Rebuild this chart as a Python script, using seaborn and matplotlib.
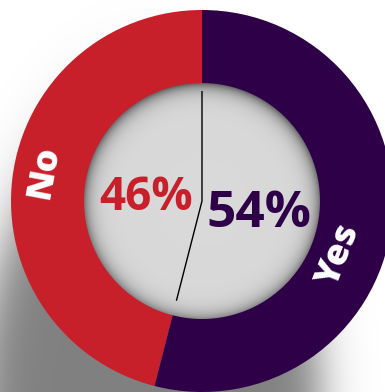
import numpy as np
import matplotlib
matplotlib.use("Agg")
import matplotlib.pyplot as plt
import seaborn as sns

# Survey result
labels = ["No", "Yes"]
shares = [46, 54]
pct_labels = [f"{v}%" for v in shares]
colors = ["#C8202A", "#2E0048"]

W, H = 385, 392
CX, CY = 202, H - 201          # donut centre (y up)
R_OUT, R_IN = 191, 118

sns.set_theme(style="white")
plt.rcParams["font.family"] = ["Open Sans", "DejaVu Sans"]
palette = sns.color_palette(colors)

fig = plt.figure(figsize=(W / 100, H / 100), dpi=100)
ax = fig.add_axes([0, 0, 1, 1])

# pixel grid (centres), y up
xs = np.arange(W) + 0.5
ys = H - (np.arange(H) + 0.5)
XX, YY = np.meshgrid(xs, ys)

# soft drop shadow falling to the lower left
sx, sy, sa, sb = 150, H - 410, 170, 305
n = np.sqrt(((XX - sx) / sa) ** 2 + ((YY - sy) / sb) ** 2)
margin = (1 - n) * sa
alpha = 0.50 / (1 + np.exp(-margin / 13))
shadow = np.zeros((H, W, 4))
shadow[..., 3] = alpha
ax.imshow(shadow, extent=(0, W, 0, H), origin="upper", zorder=0, interpolation="bilinear")

# the ring
wedges, _ = ax.pie(shares, colors=palette, startangle=90, counterclock=True,
                   radius=R_OUT, center=(CX, CY),
                   wedgeprops=dict(width=R_OUT - R_IN + 2, linewidth=0))
for w in wedges:
    w.set_zorder(2)

# recessed grey centre
r = np.hypot(XX - CX, YY - CY)
ang = np.arctan2(YY - CY, XX - CX)
depth = np.clip(R_IN - r, 0, None)
strength = 0.40 + 0.08 * np.sin(ang)
gray = 0.851 - strength * np.exp(-depth / 7.5)
disc = np.zeros((H, W, 4))
disc[..., 0] = gray
disc[..., 1] = gray
disc[..., 2] = gray
disc[..., 3] = np.clip(R_IN - r + 0.5, 0, 1)
ax.imshow(disc, extent=(0, W, 0, H), origin="upper", zorder=3, interpolation="bilinear")

# divider line from the top through the centre to the slice boundary
b_ang = np.deg2rad(90 + shares[0] / sum(shares) * 360)
ax.plot([CX, CX, CX + 103 * np.cos(b_ang)],
        [CY + 110, CY, CY + 103 * np.sin(b_ang)],
        color="black", lw=1.0, zorder=4, solid_capstyle="butt")

# percentages
ax.text(146, H - 197, pct_labels[0], color=colors[0], fontsize=33,
        fontweight="bold", ha="center", va="center", zorder=5)
ax.text(259, H - 214, pct_labels[1], color=colors[1], fontsize=37,
        fontweight="bold", ha="center", va="center", zorder=5)

# category names along the ring
for lab, (deg, rad) in zip(labels, [(169.6, 160), (-21.5, 148)]):
    t = np.deg2rad(deg)
    rot = deg - 90 if np.cos(t) < 0 else deg + 90
    ax.text(CX + rad * np.cos(t), CY + rad * np.sin(t), lab, color="white",
            fontsize=26, fontweight="heavy", ha="center", va="center",
            rotation=rot, rotation_mode="anchor", zorder=5)

ax.set_xlim(0, W)
ax.set_ylim(0, H)
ax.set_aspect("equal")
ax.axis("off")
fig.savefig("out.png", dpi=100, facecolor="white")
